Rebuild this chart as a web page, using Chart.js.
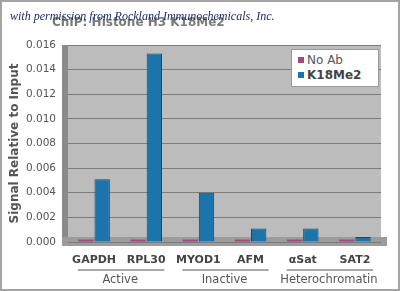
<!DOCTYPE html>
<html><head><meta charset="utf-8">
<script src="https://cdn.jsdelivr.net/npm/chart.js@4"></script>
<style>
body{margin:0;background:#fff;}
#wrap{position:relative;width:400px;height:291px;overflow:hidden;}
#c{position:absolute;left:0;top:0;}
#frame{position:absolute;left:0;top:0;width:400px;height:291px;border:2px solid #a4a4a4;box-sizing:border-box;pointer-events:none;}
#title{position:absolute;left:52px;top:15px;font:bold 12px "DejaVu Sans";color:#7a7a7a;white-space:nowrap;}
#wm{position:absolute;left:10px;top:9px;font:italic 12px "Liberation Serif";color:#1c2c66;white-space:nowrap;}
#legend{position:absolute;left:291px;top:49px;width:88px;height:38px;background:#fff;border:1px solid #9a9a9a;box-sizing:border-box;font:12px "DejaVu Sans";color:#555;}
#legend div{position:absolute;left:6px;white-space:nowrap;}
#legend span.sw{display:inline-block;width:6px;height:6px;margin-right:3px;vertical-align:1px;}
</style></head>
<body>
<div id="wrap">
<canvas id="c" width="400" height="291"></canvas>
<div id="title">ChIP: Histone H3 K18Me2</div>
<div id="wm">with permission from Rockland Immunochemicals, Inc.</div>
<div id="legend"></div>
<div id="frame"></div>
</div>
<script>
const categories = ['GAPDH','RPL30','MYOD1','AFM','\u03b1Sat','SAT2'];
const groups = ['Active','Inactive','Heterochromatin'];
const groupSizes = [2,2,2];
const noAb = [0.0002,0.0002,0.0002,0.0002,0.0002,0.0002];
const k18me2 = [0.0051,0.0153,0.0040,0.0011,0.0011,0.0004];
const yTicks = [0,0.002,0.004,0.006,0.008,0.010,0.012,0.014,0.016];
const seriesNames = ['No Ab','K18Me2'];
const seriesColors = ['#a04a7e','#1c74ac'];

const bgPlugin = {
  id:'bg',
  beforeDraw(chart){
    const {ctx, chartArea:a} = chart;
    ctx.save();
    ctx.fillStyle='#bcbcbc';
    ctx.fillRect(a.left,a.top,a.right-a.left,a.bottom-a.top);
    ctx.fillStyle='#8a8a8a';
    ctx.fillRect(a.left-6,a.top,6,a.bottom-a.top+4);
    ctx.fillStyle='#9c9c9c';
    ctx.fillRect(a.left-6,a.bottom-5,a.right-a.left+12,9);
    ctx.restore();
  },
  afterDraw(chart){
    const {ctx} = chart;
    const x = chart.scales.x;
    const w = (x.right-x.left)/categories.length;
    ctx.save();
    ctx.strokeStyle='#a8a8a8';
    ctx.lineWidth=2;
    let i=0;
    const yy = x.bottom + 1;
    groupSizes.forEach(n=>{
      const x0 = x.getPixelForValue(i)-w/2+10;
      const x1 = x.getPixelForValue(i+n-1)+w/2-8;
      ctx.beginPath();ctx.moveTo(x0,yy);ctx.lineTo(x1,yy);ctx.stroke();
      i+=n;
    });
    ctx.restore();
  }
};

const chart = new Chart(document.getElementById('c'),{
  type:'bar',
  data:{
    labels:categories,
    datasets:[
      {label:seriesNames[0],data:noAb,backgroundColor:seriesColors[0],borderColor:'#6a2a50',borderWidth:0},
      {label:seriesNames[1],data:k18me2,backgroundColor:seriesColors[1],borderColor:'#0e4a72',borderWidth:1}
    ]
  },
  options:{
    responsive:false,
    animation:false,
    layout:{padding:{top:45,right:19,bottom:2,left:0}},
    plugins:{legend:{display:false},title:{display:false},tooltip:{enabled:false}},
    datasets:{bar:{categoryPercentage:0.62,barPercentage:0.95}},
    scales:{
      x:{
        afterFit(s){s.height=27;},
        grid:{display:false,drawTicks:false},
        border:{display:false},
        ticks:{padding:12,color:'#444',font:{family:'DejaVu Sans',size:11,weight:'bold'}}
      },
      x2:{
        type:'category',labels:groups,position:'bottom',offset:true,
        afterFit(s){s.height=20;},
        grid:{display:false,drawTicks:false},
        border:{display:false},
        ticks:{padding:4,color:'#555',font:{family:'DejaVu Sans',size:11.5}}
      },
      y:{
        min:0,max:0.016,
        afterBuildTicks(s){s.ticks=yTicks.map(v=>({value:v}));},
        afterFit(s){s.width=68;},
        grid:{color:'#7c7c7c',drawTicks:false},
        border:{display:false},
        ticks:{padding:12,color:'#555',font:{family:'DejaVu Sans',size:10.5},callback:v=>v.toFixed(3)},
        title:{display:true,text:'Signal Relative to Input',color:'#555',padding:{top:8,bottom:0},font:{family:'DejaVu Sans',size:12,weight:'bold'}}
      }
    }
  },
  plugins:[bgPlugin]
});

const lg=document.getElementById('legend');
chart.data.datasets.forEach((d,i)=>{
  const el=document.createElement('div');
  el.style.top=(i===0?3:18)+'px';
  if(i===1){el.style.fontWeight='bold';el.style.color='#444';}
  el.innerHTML='<span class="sw" style="background:'+d.backgroundColor+'"></span>'+d.label;
  lg.appendChild(el);
});
</script>
</body></html>
